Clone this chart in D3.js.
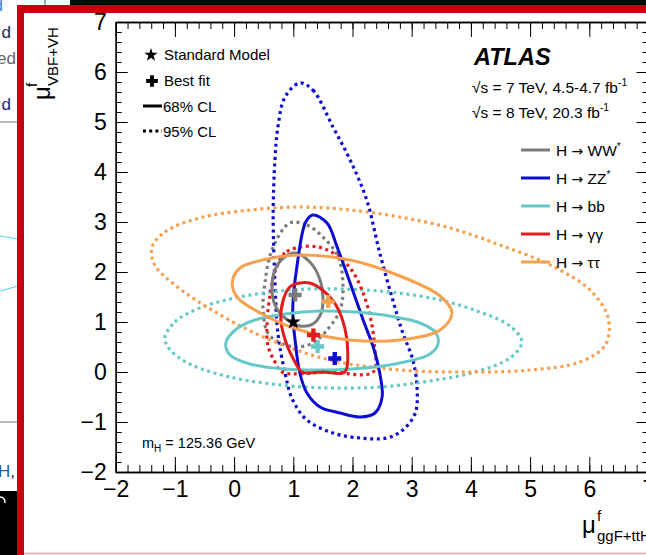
<!DOCTYPE html>
<html>
<head>
<meta charset="utf-8">
<script src="https://cdn.jsdelivr.net/npm/d3@7"></script>
<style>
  body { margin: 0; background: #fff; overflow: hidden; }
  svg { display: block; font-family: "Liberation Sans", Arial, Helvetica, sans-serif; }
</style>
</head>
<body>
<div id="chart"></div>
<script>
// Axis ticks
var xMajor = d3.range(-2, 8);
var yMajor = d3.range(-2, 8);

// Channels, in legend order
var channels = ["WW", "ZZ", "bb", "gg", "tt"];
var channelDecay = ["WW", "ZZ", "bb", "\u03b3\u03b3", "\u03c4\u03c4"];
var channelSup = ["*", "*", "", "", ""];

// Standard Model point
var smPoint = [1, 1];

// Best fit points per channel
var bestFitX = [1.03, 1.70, 1.41, 1.34, 1.59];
var bestFitY = [1.54, 0.27, 0.51, 0.74, 1.41];

// 68% CL contours
var ww68 = [[1.03, 2.38], [0.83, 2.28], [0.69, 2.04], [0.64, 1.70], [0.69, 1.34], [0.86, 1.08],
  [1.11, 0.92], [1.33, 0.96], [1.47, 1.18], [1.50, 1.50], [1.44, 1.88], [1.28, 2.20]];
var zz68 = [[1.33, 3.14], [1.21, 3.0], [1.06, 2.10], [0.99, 1.24], [1.03, 0.64], [1.11, -0.02],
  [1.23, -0.42], [1.45, -0.70], [1.79, -0.82], [2.13, -0.90], [2.38, -0.82], [2.50, -0.50],
  [2.46, -0.02], [2.35, 0.50], [2.18, 1.04], [1.96, 1.78], [1.74, 2.50], [1.57, 2.98]];
var bb68 = [[-0.14, 0.58], [0.02, 0.84], [0.35, 1.04], [0.86, 1.16], [1.45, 1.22], [2.04, 1.20],
  [2.63, 1.12], [3.14, 0.98], [3.41, 0.78], [3.44, 0.54], [3.28, 0.34], [2.80, 0.18],
  [2.21, 0.08], [1.54, 0.04], [0.86, 0.06], [0.27, 0.16], [-0.07, 0.34]];
var gg68 = [[1.11, 1.78], [0.94, 1.70], [0.83, 1.44], [0.79, 1.04], [0.88, 0.58], [1.01, 0.24],
  [1.15, 0.0], [1.50, 0.0], [1.87, 0.0], [1.92, 0.40], [1.87, 0.88], [1.72, 1.34], [1.49, 1.64], [1.28, 1.78]];
var tt68 = [[-0.03, 1.80], [0.10, 2.08], [0.56, 2.26], [1.11, 2.34], [1.96, 2.24], [2.80, 1.92],
  [3.48, 1.52], [3.68, 1.18], [3.48, 0.84], [2.80, 0.64], [1.96, 0.64], [1.11, 0.84],
  [0.44, 1.18], [0.05, 1.50]];

// 95% CL contours
var ww95 = [[0.94, 2.98], [1.23, 2.94], [1.50, 2.70], [1.76, 2.30], [1.84, 1.70], [1.79, 1.24],
  [1.57, 0.84], [1.33, 0.58], [1.06, 0.50], [0.78, 0.58], [0.57, 0.78], [0.49, 1.24],
  [0.52, 1.78], [0.64, 2.44]];
var zz95 = [[1.11, 5.78], [1.33, 5.64], [1.67, 4.90], [1.96, 4.24], [2.24, 3.44], [2.46, 2.38],
  [2.68, 1.44], [2.85, 0.78], [3.02, 0.24], [3.09, -0.30], [3.06, -0.82], [2.85, -1.16],
  [2.58, -1.32], [2.13, -1.32], [1.67, -1.22], [1.23, -0.96], [0.99, -0.56], [0.86, -0.02],
  [0.74, 0.78], [0.69, 1.78], [0.66, 3.18], [0.69, 4.24], [0.74, 4.90], [0.86, 5.50]];
var bb95 = [[-1.17, 0.68], [-1.00, 1.00], [-0.58, 1.28], [0.10, 1.50], [0.94, 1.64], [1.79, 1.66],
  [2.63, 1.60], [3.48, 1.44], [4.15, 1.20], [4.66, 0.92], [4.86, 0.60], [4.66, 0.28],
  [4.07, 0.00], [3.31, -0.18], [2.47, -0.30], [1.62, -0.32], [0.78, -0.26], [-0.07, -0.10],
  [-0.75, 0.16], [-1.08, 0.44]];
var gg95 = [[1.11, 2.50], [0.86, 2.38], [0.72, 2.10], [0.62, 1.64], [0.56, 1.04], [0.57, 0.54],
  [0.69, 0.20], [0.81, 0.0], [1.60, 0.0], [2.35, 0.0], [2.37, 0.54], [2.30, 1.10], [2.16, 1.64],
  [1.96, 2.08], [1.70, 2.36], [1.42, 2.50]];
var tt95 = [[-1.39, 2.48], [-1.17, 2.80], [-0.58, 3.08], [0.27, 3.24], [1.11, 3.30], [1.96, 3.24],
  [2.80, 3.10], [3.65, 2.88], [4.49, 2.54], [5.34, 2.14], [6.01, 1.64], [6.32, 1.08],
  [6.27, 0.54], [5.84, 0.20], [5.00, 0.04], [3.99, 0.00], [2.80, 0.04], [1.62, 0.24],
  [0.61, 0.64], [-0.32, 1.20], [-1.00, 1.74], [-1.34, 2.14]];

var contours68 = [ww68, zz68, bb68, gg68, tt68];
var contours95 = [ww95, zz95, bb95, gg95, tt95];

// Colours per channel
var colors = ["#7b7b7b", "#0c0cd2", "#66c9c9", "#e21b1b", "#f6a14f"];

var W = 646, H = 555;
var svg = d3.select("#chart").append("svg")
    .attr("width", W)
    .attr("height", H);

// ---- surrounding slide / frame ----
var bg = svg.append("g");
bg.append("rect").attr("width", W).attr("height", H).attr("fill", "#fff");
// bits of the slide behind, on the left
bg.append("rect").attr("x", 70).attr("y", 0).attr("width", W - 70).attr("height", 6).attr("fill", "#000");
bg.append("line").attr("x1", 45).attr("x2", 45).attr("y1", 0).attr("y2", 6).attr("stroke", "#888").attr("stroke-width", 1.5);
bg.append("text").attr("x", 11).attr("y", 38).attr("text-anchor", "end").attr("font-size", 17).attr("fill", "#1a2a55").text("d");
bg.append("text").attr("x", 16).attr("y", 64).attr("text-anchor", "end").attr("font-size", 17).attr("fill", "#666").text("ed");
bg.append("text").attr("x", 11).attr("y", 110).attr("text-anchor", "end").attr("font-size", 17).attr("fill", "#1a2a7a").text("d");
bg.append("text").attr("x", 3).attr("y", 11).attr("text-anchor", "end").attr("font-size", 17).attr("fill", "#3a8ad0").text("d");
bg.append("line").attr("x1", 0).attr("x2", 18).attr("y1", 122).attr("y2", 122).attr("stroke", "#777").attr("stroke-width", 1);
bg.append("line").attr("x1", 0).attr("x2", 18).attr("y1", 236).attr("y2", 239).attr("stroke", "#4ad4ee").attr("stroke-width", 1.2);
bg.append("line").attr("x1", 0).attr("x2", 18).attr("y1", 291).attr("y2", 286).attr("stroke", "#4ad4ee").attr("stroke-width", 1.2);
bg.append("line").attr("x1", 0).attr("x2", 18).attr("y1", 422).attr("y2", 422).attr("stroke", "#777").attr("stroke-width", 1);
var hTxt = bg.append("text").attr("x", -2).attr("y", 477).attr("font-size", 17).attr("fill", "#2a5aa0");
hTxt.append("tspan").text("H");
hTxt.append("tspan").attr("fill", "#222").text(",");
bg.append("rect").attr("x", 0).attr("y", 491).attr("width", 18).attr("height", H - 491).attr("fill", "#000");
bg.append("path").attr("d", "M0,497 Q5,497 5,503").attr("fill", "none").attr("stroke", "#fff").attr("stroke-width", 1.5);
// red frame
bg.append("rect").attr("x", 17).attr("y", 5).attr("width", W - 17).attr("height", 8).attr("fill", "#c4000f");
bg.append("rect").attr("x", 17).attr("y", 5).attr("width", 7).attr("height", H - 5).attr("fill", "#c4000f");
bg.append("line").attr("x1", 24).attr("x2", W).attr("y1", 553.5).attr("y2", 553.5).attr("stroke", "#f2a0a8").attr("stroke-width", 1.5);

// ---- plot ----
var x = d3.scaleLinear().domain([-2, 7]).range([115.7, 648.5]);
var y = d3.scaleLinear().domain([-2, 7]).range([472, 22]);

var plot = svg.append("g");
var fmt = function (d) { return d < 0 ? "\u2212" + Math.abs(d) : d; };
var minorX = d3.range(-2, 7.01, 0.2);
var minorY = d3.range(-2, 7.01, 0.2);

function styleAxis(g) {
    g.selectAll(".domain").attr("stroke", "#000").attr("stroke-width", 1.3);
    g.selectAll(".tick line").attr("stroke", "#000").attr("stroke-width", 1);
    g.selectAll("text").attr("font-size", 23).attr("fill", "#000")
        .attr("font-family", "'Liberation Sans', Arial, sans-serif");
}

// bottom
plot.append("g").attr("transform", "translate(0," + y(-2) + ")")
    .call(d3.axisBottom(x).tickValues(minorX).tickSize(-7).tickSizeOuter(0).tickFormat(""))
    .call(styleAxis);
plot.append("g").attr("transform", "translate(0," + y(-2) + ")")
    .call(d3.axisBottom(x).tickValues(xMajor).tickSize(-15).tickSizeOuter(0).tickPadding(9).tickFormat(fmt))
    .call(styleAxis);
// top
plot.append("g").attr("transform", "translate(0," + y(7) + ")")
    .call(d3.axisTop(x).tickValues(minorX).tickSize(-7).tickSizeOuter(0).tickFormat(""))
    .call(styleAxis);
plot.append("g").attr("transform", "translate(0," + y(7) + ")")
    .call(d3.axisTop(x).tickValues(xMajor).tickSize(-15).tickSizeOuter(0).tickFormat(""))
    .call(styleAxis);
// left
plot.append("g").attr("transform", "translate(" + x(-2) + ",0)")
    .call(d3.axisLeft(y).tickValues(minorY).tickSize(-6).tickSizeOuter(0).tickFormat(""))
    .call(styleAxis);
plot.append("g").attr("transform", "translate(" + x(-2) + ",0)")
    .call(d3.axisLeft(y).tickValues(yMajor).tickSize(-12).tickSizeOuter(0).tickPadding(9).tickFormat(fmt))
    .call(styleAxis);
// right
plot.append("g").attr("transform", "translate(" + x(7) + ",0)")
    .call(d3.axisRight(y).tickValues(minorY).tickSize(-6).tickSizeOuter(0).tickFormat(""))
    .call(styleAxis);
plot.append("g").attr("transform", "translate(" + x(7) + ",0)")
    .call(d3.axisRight(y).tickValues(yMajor).tickSize(-12).tickSizeOuter(0).tickFormat(""))
    .call(styleAxis);

// contours
var line = d3.line()
    .x(function (d) { return x(d[0]); })
    .y(function (d) { return y(d[1]); })
    .curve(d3.curveCatmullRomClosed.alpha(0.5));

var curves = plot.append("g").attr("fill", "none");
contours95.forEach(function (c, i) {
    curves.append("path").attr("d", line(c))
        .attr("stroke", colors[i]).attr("stroke-width", 3.2)
        .attr("stroke-dasharray", "3,3.6");
});
contours68.forEach(function (c, i) {
    curves.append("path").attr("d", line(c))
        .attr("stroke", colors[i]).attr("stroke-width", 3);
});

// best fit markers
var cross = d3.symbol().type(d3.symbolCross).size(95);
var star = d3.symbol().type(d3.symbolStar).size(70);
plot.append("g").selectAll("path")
    .data(channels)
    .enter()
    .append("path")
    .attr("d", cross)
    .attr("fill", function (d, i) { return colors[i]; })
    .attr("transform", function (d, i) {
        return "translate(" + x(bestFitX[i]) + "," + y(bestFitY[i]) + ")";
    });
plot.append("path").attr("d", star).attr("fill", "#000")
    .attr("transform", "translate(" + x(smPoint[0]) + "," + y(smPoint[1]) + ")");

// left legend
var leg = plot.append("g").attr("font-size", 15).attr("fill", "#000");
leg.append("path").attr("d", d3.symbol().type(d3.symbolStar).size(55)).attr("transform", "translate(151,55)");
leg.append("text").attr("x", 164).attr("y", 60).text("Standard Model");
leg.append("path").attr("d", d3.symbol().type(d3.symbolCross).size(75)).attr("transform", "translate(152,81)");
leg.append("text").attr("x", 164).attr("y", 86).text("Best fit");
leg.append("line").attr("x1", 143).attr("x2", 162).attr("y1", 106).attr("y2", 106).attr("stroke", "#000").attr("stroke-width", 3);
leg.append("text").attr("x", 163).attr("y", 112).text("68% CL");
leg.append("line").attr("x1", 143).attr("x2", 162).attr("y1", 131).attr("y2", 131).attr("stroke", "#000").attr("stroke-width", 3).attr("stroke-dasharray", "3,3.2");
leg.append("text").attr("x", 163).attr("y", 137).text("95% CL");

// ATLAS label
plot.append("text").attr("x", 474).attr("y", 65).attr("font-size", 23.5)
    .attr("font-weight", "bold").attr("font-style", "italic").text("ATLAS");
function energyLine(yy, main, sup) {
    var t = plot.append("text").attr("x", 472).attr("y", yy).attr("font-size", 15.5);
    t.append("tspan").text(main);
    t.append("tspan").attr("font-size", 10.5).attr("dy", -7).text(sup);
}
energyLine(93, "\u221as = 7 TeV, 4.5-4.7 fb", "-1");
energyLine(118, "\u221as = 8 TeV, 20.3 fb", "-1");

// channel legend
var cl = plot.append("g").selectAll("g")
    .data(channels)
    .enter()
    .append("g")
    .attr("transform", function (d, i) { return "translate(0," + (150 + i * 28) + ")"; });
cl.append("line").attr("x1", 521).attr("x2", 550)
    .attr("stroke", function (d, i) { return colors[i]; }).attr("stroke-width", 3);
var clt = cl.append("text").attr("x", 556).attr("y", 6).attr("font-size", 15.5);
clt.append("tspan").text("H ");
clt.append("tspan").attr("font-family", "'DejaVu Sans', sans-serif").attr("font-size", 14).text("\u2192");
clt.append("tspan").text(function (d, i) { return " " + channelDecay[i]; });
clt.append("tspan").attr("font-size", 10).attr("dy", -6).text(function (d, i) { return channelSup[i]; });

// mass label
var mh = plot.append("text").attr("x", 142).attr("y", 448).attr("font-size", 14.5);
mh.append("tspan").text("m");
mh.append("tspan").attr("font-size", 10).attr("dy", 4).text("H");
mh.append("tspan").attr("dy", -4).text(" = 125.36 GeV");

// axis titles
var yt = plot.append("g").attr("transform", "translate(50,100) rotate(-90)");
yt.append("text").attr("x", 0).attr("y", 0).attr("font-size", 24).text("\u03bc");
yt.append("text").attr("x", 13).attr("y", -13).attr("font-size", 15).text("f");
yt.append("text").attr("x", 14).attr("y", 8).attr("font-size", 15).text("VBF+VH");

plot.append("text").attr("x", 582).attr("y", 533).attr("font-size", 24).text("\u03bc");
plot.append("text").attr("x", 597).attr("y", 521).attr("font-size", 15).text("f");
plot.append("text").attr("x", 597).attr("y", 541).attr("font-size", 15).text("ggF+ttH");
</script>
</body>
</html>
